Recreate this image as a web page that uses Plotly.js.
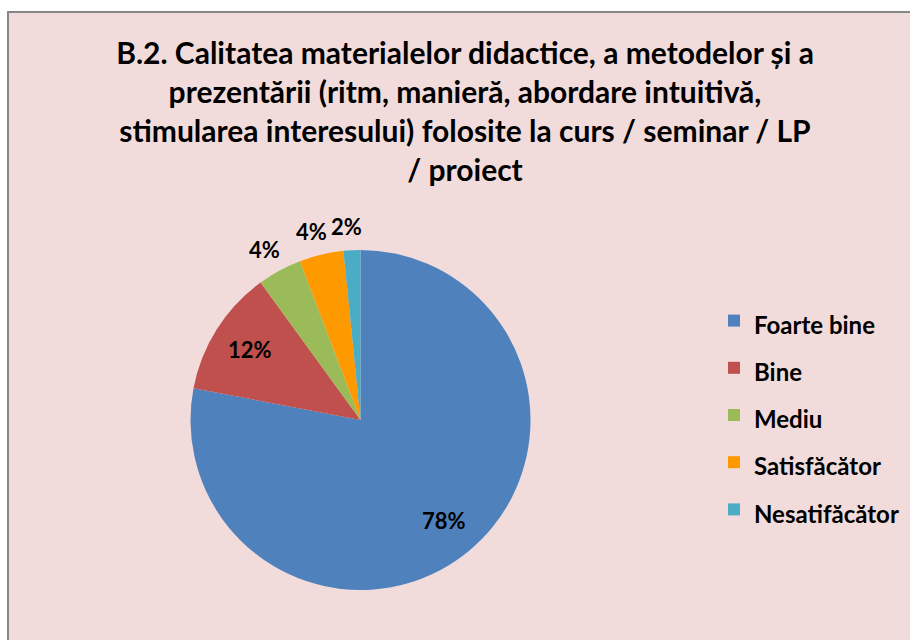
<!DOCTYPE html>
<html>
<head>
<meta charset="utf-8">
<script src="https://cdn.plot.ly/plotly-3.0.1.min.js"></script>
<style>
  html, body { margin: 0; padding: 0; background: #ffffff; }
  #frame {
    position: absolute; left: 7px; top: 11px; width: 920px; height: 640px;
    background: #F2DCDB; border: 2px solid #868686;
  }
  #chart { position: absolute; left: 0; top: 0; width: 910px; height: 640px; }
</style>
</head>
<body>
<div id="frame"></div>
<div id="chart"></div>
<script>
// values (percent of answers)
var labels = ['Foarte bine', 'Bine', 'Mediu', 'Satisfăcător', 'Nesatifăcător'];
var values = [78, 12, 4.2, 4.2, 1.6];
var colors = ['#4F81BD', '#C0504D', '#9BBB59', '#FF9900', '#4BACC6'];
var labelInside = [true, true, false, false, false];

var fontFam = 'Lato, "Open Sans", sans-serif';
var W = 910, H = 640;

// pie box in pixels
var pieX = [190, 531], pieY = [250, 590];
var cx = (pieX[0] + pieX[1]) / 2, cy = (pieY[0] + pieY[1]) / 2;
var R = Math.min(pieX[1] - pieX[0], pieY[1] - pieY[0]) / 2;

// data labels placed like Excel: inside at ~0.77R, outside just past the rim
var total = values.reduce(function (a, b) { return a + b; }, 0);
var annotations = [];
var acc = 0;
values.forEach(function (v, i) {
  var mid = (acc + v / 2) / total;
  acc += v;
  var th = 2 * Math.PI * mid;
  var r = labelInside[i] ? 0.77 * R : R + 24;
  annotations.push({
    xref: 'paper', yref: 'paper',
    x: (cx + r * Math.sin(th) - (labelInside[i] ? 0 : 4)) / W,
    y: 1 - (cy - r * Math.cos(th)) / H,
    xanchor: 'center', yanchor: 'middle',
    text: Math.round(v / total * 100) + '%',
    showarrow: false,
    font: { family: fontFam, size: 22, color: '#000000', weight: 'bold' }
  });
});

// legend labels: big line box for the spacing, smaller visible text
var legendLabels = labels.map(function (l) {
  return '<span style="font-size:24px">' + l + '</span>';
});

var data = [{
  type: 'pie',
  labels: legendLabels,
  values: values,
  sort: false,
  direction: 'clockwise',
  rotation: 0,
  marker: { colors: colors, line: { width: 0 } },
  textinfo: 'none',
  hoverinfo: 'none',
  domain: { x: [pieX[0] / W, pieX[1] / W], y: [1 - pieY[1] / H, 1 - pieY[0] / H] }
}];

var layout = {
  width: W,
  height: H,
  margin: { l: 0, r: 0, t: 0, b: 0 },
  paper_bgcolor: 'rgba(0,0,0,0)',
  plot_bgcolor: 'rgba(0,0,0,0)',
  title: {
    text: 'B.2. Calitatea materialelor didactice, a metodelor și a<br>' +
      'prezentării (ritm, manieră, abordare intuitivă,<br>' +
      'stimularea interesului) folosite la curs / seminar / LP<br>' +
      '/ proiect',
    font: { family: fontFam, size: 30, color: '#000000', weight: 'bold' },
    x: 465 / W,
    xanchor: 'center',
    y: 1 - 64 / H,
    yanchor: 'top'
  },
  annotations: annotations,
  showlegend: true,
  legend: {
    x: 714 / W,
    xanchor: 'left',
    y: 1 - 292 / H,
    yanchor: 'top',
    font: { family: fontFam, size: 34, color: '#000000', weight: 'bold' },
    bgcolor: 'rgba(0,0,0,0)',
    itemclick: false
  }
};

Plotly.newPlot('chart', data, layout, { displayModeBar: false, staticPlot: true });
</script>
</body>
</html>
